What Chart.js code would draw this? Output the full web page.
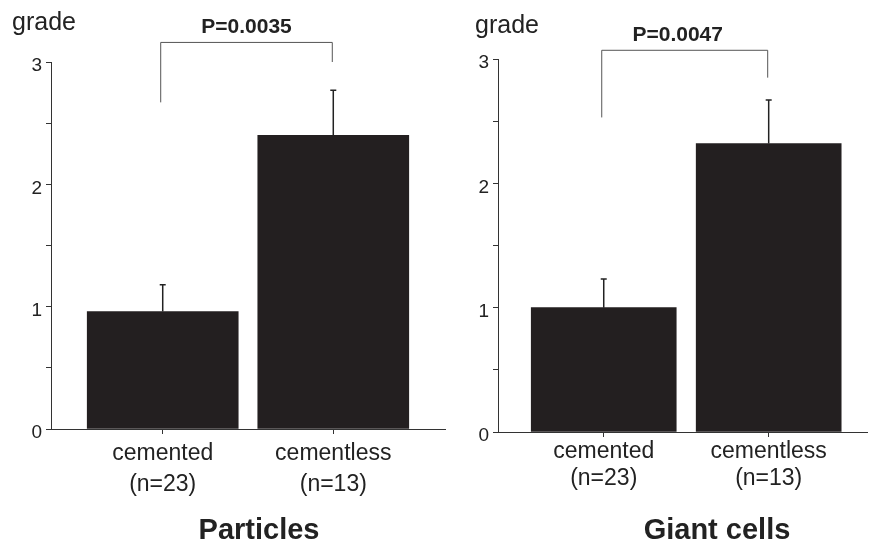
<!DOCTYPE html>
<html>
<head>
<meta charset="utf-8">
<script src="https://cdn.jsdelivr.net/npm/chart.js@4/dist/chart.umd.min.js"></script>
<style>
  body { margin: 0; background: #fff; }
  .wrap { position: relative; width: 869px; height: 541px; }
  canvas { position: absolute; top: 0; }
  #particlesChart { left: 0; }
  #giantChart { left: 450px; }
</style>
</head>
<body>
<div class="wrap">
  <canvas id="particlesChart" width="450" height="541"></canvas>
  <canvas id="giantChart" width="419" height="541"></canvas>
</div>
<script>
// data
const categories = ["cemented", "cementless"];
const sampleSizes = ["(n=23)", "(n=13)"];
const particlesMean = [0.96, 2.40];
const particlesSD = [0.22, 0.37];
const giantMean = [1.00, 2.32];
const giantSD = [0.23, 0.35];
const gradeTicks = [0, 1, 2, 3];
const pLabels = ["P=0.0035", "P=0.0047"];
const panelTitles = ["Particles", "Giant cells"];
// bracket heights in grade units: [top, left leg end, right leg end]
const particlesBracket = [3.16, 2.67, 3.0];
const giantBracket = [3.07, 2.53, 2.85];

const INK = "#231f20";
const FONT = "'Liberation Sans', Arial, sans-serif";

// error bars, significance bracket and panel texts
const annotatePlugin = {
  id: "annotate",
  afterDatasetsDraw(chart, args, o) {
    const { ctx } = chart;
    const x = chart.scales.x;
    const y = chart.scales.y;
    const meta = chart.getDatasetMeta(0);

    ctx.save();
    ctx.strokeStyle = "#222";
    ctx.lineWidth = 1.5;
    meta.data.forEach((bar, i) => {
      const top = y.getPixelForValue(o.means[i] + o.sds[i]);
      ctx.beginPath();
      ctx.moveTo(bar.x, bar.y);
      ctx.lineTo(bar.x, top);
      ctx.moveTo(bar.x - 3, top);
      ctx.lineTo(bar.x + 3, top);
      ctx.stroke();
    });

    // bracket
    const x0 = x.getPixelForValue(0) - 2;
    const x1 = x.getPixelForValue(1) - 1;
    const yt = y.getPixelForValue(o.bracket[0]);
    ctx.strokeStyle = "#555";
    ctx.lineWidth = 1;
    ctx.beginPath();
    ctx.moveTo(x0, y.getPixelForValue(o.bracket[1]));
    ctx.lineTo(x0, yt);
    ctx.lineTo(x1, yt);
    ctx.lineTo(x1, y.getPixelForValue(o.bracket[2]));
    ctx.stroke();

    ctx.fillStyle = "#222";
    ctx.textAlign = "center";
    ctx.textBaseline = "alphabetic";
    ctx.font = "bold 21px " + FONT;
    ctx.fillText(o.pLabel, (x0 + x1) / 2 + o.pShift, yt - 9);

    ctx.font = "bold 29px " + FONT;
    ctx.fillText(o.title, o.titleX, 539);

    ctx.textAlign = "left";
    ctx.font = "25px " + FONT;
    ctx.fillText("grade", o.gradeX, o.gradeY);
    ctx.restore();
  },
};

function makePanel(id, o) {
  return new Chart(document.getElementById(id), {
    type: "bar",
    data: {
      datasets: [
        {
          data: o.means.map((v, i) => ({ x: i, y: v })),
          backgroundColor: INK,
          borderWidth: 0,
          barThickness: o.barWidth,
        },
      ],
    },
    options: {
      responsive: false,
      animation: false,
      layout: { padding: { top: o.top, right: o.right, left: 0, bottom: 0 } },
      plugins: {
        legend: { display: false },
        tooltip: { enabled: false },
        annotate: o,
      },
      scales: {
        x: {
          type: "linear",
          offset: false,
          min: o.xMin,
          max: o.xMax,
          afterBuildTicks: (s) => {
            s.ticks = categories.map((c, i) => ({ value: i }));
          },
          afterFit: (s) => {
            s.height = o.xHeight;
          },
          grid: {
            offset: false,
            drawOnChartArea: false,
            drawTicks: true,
            tickLength: 5,
            tickColor: "#333",
          },
          border: { display: true, color: "#333", width: 1 },
          ticks: {
            autoSkip: false,
            maxRotation: 0,
            padding: o.xPad,
            color: "#222",
            font: { family: FONT, size: 23, lineHeight: o.lineH / 23 },
            callback: (v) => [categories[v], sampleSizes[v]],
          },
        },
        y: {
          min: 0,
          max: 3,
          afterFit: (s) => {
            s.width = o.yWidth;
          },
          grid: {
            drawOnChartArea: false,
            drawTicks: true,
            tickLength: 5,
            tickColor: "#333",
          },
          border: { display: true, color: "#333", width: 1 },
          ticks: {
            stepSize: 0.5,
            padding: 4,
            labelOffset: 4,
            color: "#222",
            font: { family: FONT, size: 19 },
            callback: (v) => (gradeTicks.includes(v) ? String(v) : ""),
          },
        },
      },
    },
    plugins: [annotatePlugin],
  });
}

makePanel("particlesChart", {
  means: particlesMean,
  sds: particlesSD,
  bracket: particlesBracket,
  pLabel: pLabels[0],
  pShift: 0,
  title: panelTitles[0],
  titleX: 259,
  gradeX: 12,
  gradeY: 30,
  barWidth: 151,
  xMin: -0.655,
  xMax: 1.655,
  top: 62,
  right: 5,
  yWidth: 51,
  xHeight: 112,
  xPad: 4,
  lineH: 31,
});

makePanel("giantChart", {
  means: giantMean,
  sds: giantSD,
  bracket: giantBracket,
  pLabel: pLabels[1],
  pShift: -7,
  title: panelTitles[1],
  titleX: 267,
  gradeX: 25,
  gradeY: 33,
  barWidth: 145,
  xMin: -0.641,
  xMax: 1.596,
  top: 59,
  right: 2,
  yWidth: 48,
  xHeight: 109,
  xPad: 1,
  lineH: 27,
});
</script>
</body>
</html>
